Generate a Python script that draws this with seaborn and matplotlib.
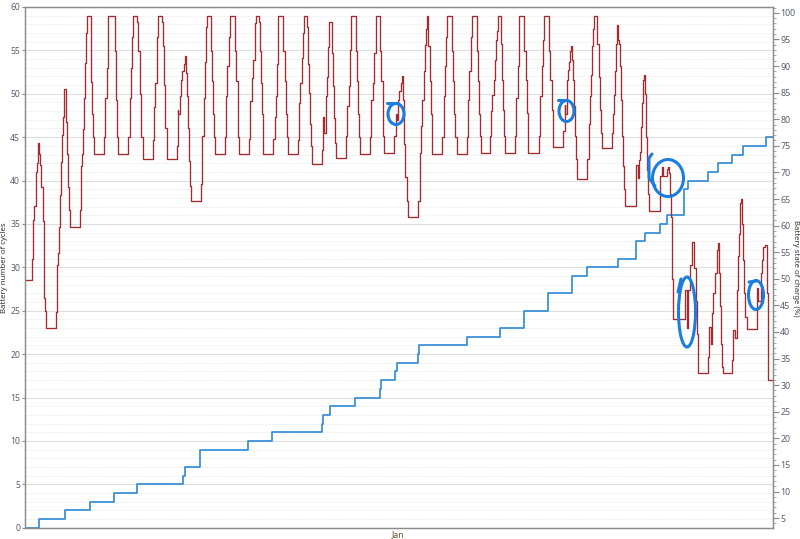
import matplotlib
matplotlib.use("Agg")
import matplotlib.pyplot as plt
import matplotlib.dates as mdates
from matplotlib.ticker import MultipleLocator
from matplotlib.patches import Ellipse
from matplotlib.lines import Line2D
import pandas as pd
import seaborn as sns

# ---------------- data ----------------
start = pd.Timestamp("2023-12-16 13:18")
end_hours = 742.8

# battery state of charge (%) : (hours since start, level) step changes, one line per daily cycle
soc_steps = [
    (0.0, 49.7), (6.5, 53.8), (7.6, 61.1), (9.2, 63.6), (10.6, 70.1), (11.6, 71.7), (12.6, 73.8), (13.2, 75.5), (14.2, 73.4), (15.2, 71.4), (16.2, 67.2), (17.4, 60.8), (18.4, 54.6), (19.2, 46.4), (19.9, 44.0), (20.6, 40.7),
    (30.5, 43.8), (31.5, 52.6), (32.5, 54.8), (34.1, 59.8), (34.8, 65.7), (35.7, 71.9), (36.7, 77.1), (37.4, 80.4), (38.4, 85.6), (40.4, 79.4), (41.7, 73.5), (43.0, 67.2), (44.0, 62.9), (44.7, 59.8),
    (54.6, 62.9), (55.6, 71.2), (56.6, 73.5), (57.9, 78.1), (58.9, 84.0), (59.9, 90.5), (60.9, 96.2), (61.6, 99.5), (65.2, 93.1), (65.9, 87.0), (66.5, 80.9), (67.5, 76.6), (68.5, 73.4),
    (78.4, 76.6), (79.7, 84.0), (81.1, 89.7), (82.1, 92.9), (82.7, 99.5), (89.4, 92.9), (90.4, 83.6), (91.7, 76.6), (92.6, 73.4),
    (102.6, 76.6), (104.0, 84.0), (105.3, 89.7), (106.5, 95.4), (107.5, 99.5), (111.5, 98.3), (112.5, 92.9), (113.9, 84.8), (115.2, 76.6), (116.9, 72.5),
    (126.8, 76.1), (128.1, 82.3), (129.4, 86.9), (130.8, 91.3), (131.4, 95.4), (132.4, 99.5), (136.3, 98.3), (137.3, 93.8), (138.3, 86.4), (139.3, 78.3), (140.7, 72.5),
    (150.6, 75.0), (151.6, 81.8), (152.2, 80.9), (153.6, 81.8), (153.9, 84.3), (154.9, 87.4), (156.2, 89.0), (157.9, 90.3), (158.9, 91.8), (159.9, 88.7), (161.2, 84.3), (162.2, 78.4), (163.2, 72.2), (163.8, 67.5), (164.5, 64.7),
    (174.8, 67.8), (176.1, 76.9), (177.4, 84.0), (178.7, 90.7), (179.7, 97.3), (180.4, 99.5), (184.4, 92.9), (185.7, 87.2), (187.0, 80.9), (187.7, 76.6), (188.7, 73.4),
    (198.6, 76.6), (199.9, 84.3), (200.9, 90.0), (202.3, 95.5), (203.6, 99.5), (208.5, 92.9), (209.8, 87.2), (211.2, 80.9), (211.8, 76.6), (212.8, 73.4),
    (222.4, 76.3), (223.7, 83.5), (225.1, 87.7), (226.4, 91.1), (228.1, 94.6), (228.7, 98.0), (229.4, 99.5), (232.4, 98.2), (233.4, 92.9), (234.3, 86.9), (235.3, 80.9), (236.0, 76.8), (236.6, 73.4),
    (246.6, 76.3), (248.0, 80.5), (249.0, 84.3), (250.2, 90.3), (250.9, 95.0), (251.5, 99.5), (256.5, 92.9), (257.9, 87.2), (259.2, 80.9), (260.2, 76.6), (260.9, 73.4),
    (270.8, 76.0), (272.1, 83.1), (273.4, 86.9), (274.8, 91.5), (276.1, 96.2), (277.3, 99.5), (279.7, 97.3), (281.0, 90.3), (282.3, 84.9), (283.3, 79.1), (284.0, 75.0), (284.7, 71.6),
    (294.6, 74.3), (295.6, 80.5), (297.2, 77.4), (298.9, 84.3), (299.9, 87.9), (301.2, 93.6), (302.2, 98.3), (304.6, 92.4), (305.5, 86.2), (306.8, 80.2), (307.8, 75.6), (308.8, 72.7),
    (318.8, 76.8), (320.0, 82.5), (321.4, 86.2), (322.7, 93.1), (323.7, 99.5), (328.4, 92.9), (329.7, 87.2), (331.0, 80.9), (332.0, 76.6), (332.7, 73.4),
    (342.6, 76.6), (343.9, 83.6), (345.3, 86.9), (346.6, 92.4), (348.2, 99.5), (352.5, 92.9), (353.8, 87.2), (355.2, 81.8), (355.8, 76.8), (356.8, 73.7),
    (366.7, 76.8), (368.4, 80.9), (369.1, 79.9), (370.4, 83.6), (371.7, 85.3), (373.1, 86.9), (374.7, 88.2), (375.7, 83.6), (376.6, 75.3), (377.6, 69.1), (379.0, 64.7), (380.6, 61.6),
    (390.5, 64.7), (391.9, 73.7), (393.2, 78.7), (394.5, 83.6), (395.9, 89.0), (397.2, 93.9), (398.2, 97.0), (398.9, 99.5), (400.5, 93.8), (401.9, 87.2), (403.2, 80.9), (403.9, 76.8), (404.5, 73.4),
    (414.4, 76.6), (415.8, 84.3), (417.1, 90.0), (418.4, 95.5), (419.3, 99.5), (423.7, 92.9), (425.0, 87.2), (426.3, 80.9), (427.3, 76.6), (428.7, 73.4),
    (438.6, 76.6), (439.9, 83.6), (441.2, 89.0), (442.6, 95.5), (443.6, 99.5), (448.5, 92.9), (449.8, 87.2), (451.1, 80.9), (451.8, 76.8), (452.5, 73.7),
    (461.7, 76.8), (462.7, 81.5), (463.7, 84.6), (465.4, 87.4), (466.7, 91.1), (468.0, 94.9), (469.0, 96.5), (470.0, 99.5), (472.4, 94.2), (473.7, 87.4), (475.0, 81.8), (475.9, 76.8), (476.6, 73.7),
    (486.6, 76.8), (487.9, 84.0), (489.3, 90.0), (490.2, 94.9), (490.8, 99.5), (495.8, 92.9), (497.2, 87.4), (498.5, 81.2), (499.2, 76.8), (499.8, 73.7),
    (510.4, 76.8), (511.7, 84.3), (513.1, 90.0), (514.4, 94.9), (515.4, 99.5), (520.3, 92.9), (521.6, 87.4), (523.0, 81.8), (524.0, 77.8), (524.6, 74.7),
    (534.5, 77.8), (535.9, 82.7), (536.5, 80.9), (537.9, 87.4), (539.2, 89.3), (540.2, 90.8), (541.2, 92.9), (542.2, 93.8), (543.5, 91.1), (544.5, 87.4), (545.5, 82.5), (546.4, 76.8), (547.4, 72.5), (548.4, 68.8),
    (558.4, 72.5), (559.8, 79.1), (561.0, 84.3), (562.3, 88.4), (563.3, 93.8), (564.3, 96.9), (565.0, 99.5), (568.3, 94.2), (569.7, 88.0), (571.0, 81.8), (572.0, 77.4), (572.7, 74.5),
    (582.6, 77.4), (583.9, 80.9), (584.9, 84.6), (585.9, 89.0), (586.9, 94.2), (588.2, 97.7), (589.1, 94.9), (589.8, 94.2), (590.8, 90.0), (592.1, 83.6), (593.1, 76.8), (594.1, 71.2), (595.1, 66.8), (595.8, 63.7),
    (606.4, 65.0), (607.0, 71.4), (608.4, 68.9), (610.0, 72.4), (610.7, 73.8), (611.7, 78.6), (612.7, 83.0), (613.4, 84.8), (614.0, 87.4), (614.7, 88.4), (615.7, 84.8), (616.4, 81.7), (617.0, 76.6), (617.6, 70.4), (618.3, 66.0), (619.6, 62.8),
    (630.6, 69.4), (632.5, 71.1), (633.8, 69.4), (637.2, 70.7), (638.8, 71.1), (639.8, 69.8), (640.5, 66.0), (641.2, 61.6), (642.2, 56.1), (642.8, 49.9), (643.8, 42.4), (655.4, 47.9), (657.1, 40.7), (658.7, 47.9), (660.3, 52.6), (662.0, 57.0), (664.6, 52.1), (666.0, 45.9), (667.0, 39.6), (668.0, 35.3), (668.6, 32.2),
    (678.5, 35.3), (679.5, 40.9), (680.9, 37.8), (681.9, 43.5), (683.5, 47.3), (685.2, 51.0), (686.9, 55.4), (687.9, 56.7), (689.1, 51.0), (690.1, 44.8), (691.1, 37.8), (692.1, 33.4), (692.8, 32.2),
    (701.8, 34.7), (703.3, 40.4), (705.0, 38.9), (706.7, 47.9), (707.7, 54.3), (708.7, 58.5), (709.7, 61.6), (710.3, 64.2), (711.0, 65.0), (712.3, 60.3), (713.3, 53.5), (714.3, 47.3), (715.3, 42.8), (716.6, 40.6),
    (726.6, 43.5), (727.2, 48.2), (728.2, 45.9), (730.5, 51.0), (732.1, 53.5), (733.1, 55.9), (734.8, 56.4), (736.5, 47.3), (737.5, 37.8), (738.1, 30.9), (742.8, 30.9),
]

# battery number of cycles : (hours since start, count) step changes
cycle_hours = [0.0, 13.9, 39.4, 64.5, 88.7, 111.5, 157.2, 158.9, 173.8, 221.4,
               245.3, 294.9, 295.9, 302.9, 327.7, 352.5, 353.5, 367.4, 369.4, 390.2,
               391.2, 438.9, 471.7, 495.5, 519.3, 543.5, 558.4, 589.1, 606.7, 615.2,
               630.6, 637.2, 654.4, 658.7, 678.5, 688.4, 702.1, 712.7, 736.1, 742.8]
cycle_values = [0, 1, 2, 3, 4, 5, 6, 7, 9, 10,
                11, 12, 13, 14, 15, 16, 17, 18, 19, 20,
                21, 22, 23, 25, 27, 29, 30, 31, 33, 34,
                35, 36, 39, 40, 41, 42, 43, 44, 45, 45]

x_label = "Jan"
left_label = "Battery number of cycles"
right_label = "Battery state of charge (%)"

# ---------------- frames ----------------
soc_df = pd.DataFrame(soc_steps, columns=["hours", "soc"])
soc_df["time"] = start + pd.to_timedelta(soc_df["hours"], unit="h")
cyc_df = pd.DataFrame({"hours": cycle_hours, "cycles": cycle_values})
cyc_df["time"] = start + pd.to_timedelta(cyc_df["hours"], unit="h")

# ---------------- style ----------------
sns.set_theme(style="white")
plt.rcParams["font.family"] = ["Noto Sans", "DejaVu Sans"]

fig = plt.figure(figsize=(8.0, 5.39), dpi=100)
ax = fig.add_axes([25 / 800, 1 - 527.7 / 539, 748 / 800, 520.7 / 539])
ax2 = ax.twinx()

sns.lineplot(data=cyc_df, x="time", y="cycles", ax=ax, color="#2e88d6",
             linewidth=1.2, drawstyle="steps-post", estimator=None, sort=False)
sns.lineplot(data=soc_df, x="time", y="soc", ax=ax2, color="#a52a2f",
             linewidth=0.95, drawstyle="steps-post", estimator=None, sort=False)

ax.set_xlim(start, start + pd.Timedelta(hours=end_hours))
ax.set_ylim(0, 60)
ax2.set_ylim(3.2, 101.1)

ax.yaxis.set_major_locator(MultipleLocator(5))
ax.yaxis.set_minor_locator(MultipleLocator(1))
ax2.yaxis.set_major_locator(MultipleLocator(5))
ax2.yaxis.set_minor_locator(MultipleLocator(1))

ax.set_axisbelow(True)
ax.grid(which="major", axis="y", color="#dedede", linewidth=0.8)
ax.grid(which="minor", axis="y", color="#e6e6e6", linewidth=0.6, linestyle=(0, (1, 1)))
ax.grid(which="major", axis="x", visible=False)
ax2.grid(False)

ax.xaxis.set_major_locator(mdates.MonthLocator())
ax.xaxis.set_major_formatter(mdates.DateFormatter("%b"))
ax.set_xticks(ax.get_xticks())
ax.set_xticklabels([x_label] * len(ax.get_xticks()))

ax.tick_params(axis="x", length=0, labelsize=6.2, labelcolor="#6e5420", pad=2)
ax.tick_params(axis="y", which="major", left=True, length=2.5, width=0.8, color="#8a8a8a",
               labelsize=6.2, labelcolor="#55606f", pad=1.0)
ax.tick_params(axis="y", which="minor", left=False)
ax2.tick_params(axis="y", which="major", right=True, length=4, width=0.8, color="#8a8a8a",
                labelsize=6.4, labelcolor="#55606f", pad=1.2)
ax2.tick_params(axis="y", which="minor", right=True, length=2, width=0.6, color="#9a9a9a")

for a in (ax, ax2):
    a.set_xlabel("")
    a.set_ylabel("")
    for s in a.spines.values():
        s.set_color("#8c8c8c")
        s.set_linewidth(0.9)

fig.text(5.0 / 800, 1 - 268 / 539, left_label, rotation=90, ha="center", va="center",
         fontsize=5.6, color="#333333")
fig.text(795.5 / 800, 1 - 268 / 539, right_label, rotation=270, ha="center", va="center",
         fontsize=5.6, color="#333333")

# ---------------- hand-drawn blue annotations ----------------
pen = "#1b7de0"
def px(x, y):
    return (x / 800, 1 - y / 539)

for cx, cy, w, h in [(396, 114, 16, 21), (566.5, 111, 15, 21), (668, 178, 31, 37),
                     (687, 312, 17, 70), (756, 295, 15, 29)]:
    fig.add_artist(Ellipse(px(cx, cy), w / 800, h / 539, transform=fig.transFigure,
                           fill=False, ec=pen, lw=2.2))
for pts in [[(387, 103), (398, 103)], [(558, 100), (567, 100)],
            [(652, 154), (649, 158), (649, 178), (655, 186)],
            [(681, 279), (678, 292)], [(749, 282), (756, 281)]]:
    xs = [p[0] / 800 for p in pts]
    ys = [1 - p[1] / 539 for p in pts]
    fig.add_artist(Line2D(xs, ys, transform=fig.transFigure, color=pen, lw=2.2,
                          solid_capstyle="round"))

fig.savefig("out.png", dpi=100)
